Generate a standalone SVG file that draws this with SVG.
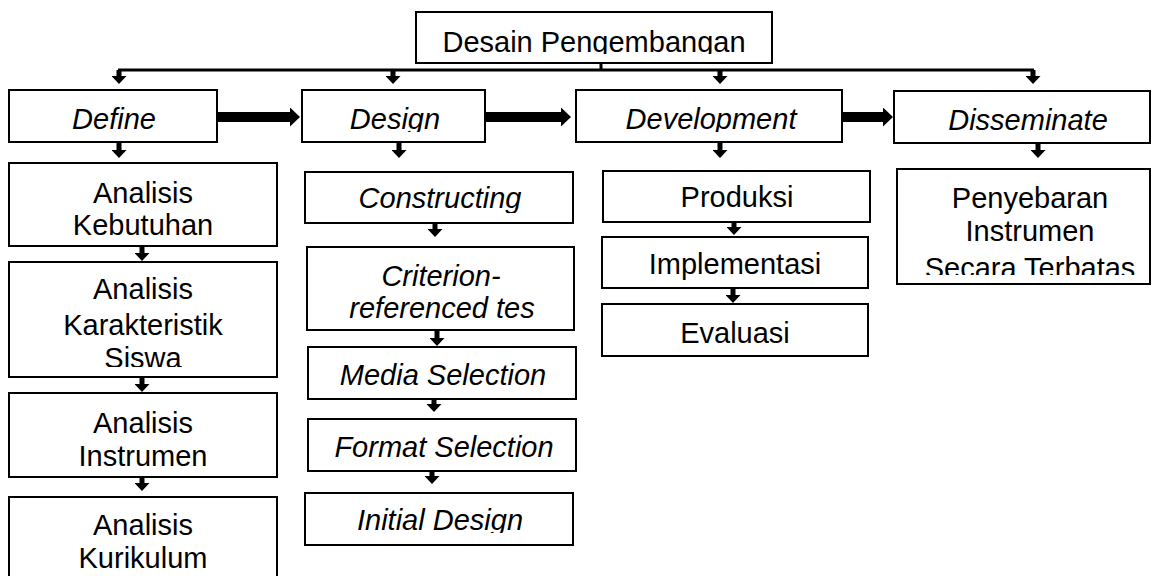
<svg xmlns="http://www.w3.org/2000/svg" width="1152" height="576" viewBox="0 0 1152 576">
<style>
.box{fill:#fff;stroke:#000;stroke-width:2}
text{font-family:"Liberation Sans",Arial,sans-serif;font-size:29px;fill:#000;text-anchor:middle}
.it{font-style:italic}
.ln{fill:none;stroke:#000;stroke-width:3}
.sa{fill:none;stroke:#000;stroke-width:5;marker-end:url(#sh)}
.ta{fill:none;stroke:#000;stroke-width:10;marker-end:url(#th)}
</style>
<defs>
<marker id="sh" markerUnits="userSpaceOnUse" viewBox="0 0 8 15" refX="0" refY="7.5" markerWidth="8" markerHeight="15" orient="auto"><path d="M0,0 L8,7.5 L0,15 z" fill="#000"/></marker>
<marker id="th" markerUnits="userSpaceOnUse" viewBox="0 0 10 19" refX="0" refY="9.5" markerWidth="10" markerHeight="19" orient="auto"><path d="M0,0 L10,9.5 L0,19 z" fill="#000"/></marker>
<clipPath id="c-title"><rect x="0" y="0" width="1152" height="54"/></clipPath>
<clipPath id="c-row2"><rect x="0" y="0" width="1152" height="132"/></clipPath>
<clipPath id="c-siswa"><rect x="0" y="0" width="1152" height="367"/></clipPath>
<clipPath id="c-cons"><rect x="0" y="0" width="1152" height="213"/></clipPath>
<clipPath id="c-init"><rect x="0" y="0" width="1152" height="533"/></clipPath>
<clipPath id="c-secara"><rect x="0" y="0" width="1152" height="275"/></clipPath>
</defs>

<g id="connectors">
<path class="ln" d="M601,63 V70 M118,70 H1034"/>
<path class="sa" d="M119,70 V76"/>
<path class="sa" d="M393,70 V76"/>
<path class="sa" d="M720,70 V76"/>
<path class="sa" d="M1033,70 V76"/>
<path class="ta" d="M217,117 H290"/>
<path class="ta" d="M486,117 H561"/>
<path class="ta" d="M843,117 H883"/>
<path class="sa" d="M119,143 V150"/>
<path class="sa" d="M399,143 V150"/>
<path class="sa" d="M720,143 V150"/>
<path class="sa" d="M1038,143 V150"/>
<path class="sa" d="M142,246 V253"/>
<path class="sa" d="M142,377 V384"/>
<path class="sa" d="M142,477 V483"/>
<path class="sa" d="M435,223 V229"/>
<path class="sa" d="M437,330 V338"/>
<path class="sa" d="M434,399 V404"/>
<path class="sa" d="M432,471 V476"/>
<path class="sa" d="M734,222 V227"/>
<path class="sa" d="M733,288 V295"/>
</g>

<g id="n-title"><rect class="box" x="416" y="12" width="356" height="51"/><text x="594" y="52" clip-path="url(#c-title)">Desain Pengembangan</text></g>

<g id="n-define"><rect class="box" x="9" y="90" width="208" height="52"/><text class="it" x="114" y="129">Define</text></g>
<g id="n-design"><rect class="box" x="302" y="90" width="183" height="52"/><text class="it" x="395" y="129" clip-path="url(#c-row2)">Design</text></g>
<g id="n-development"><rect class="box" x="576" y="90" width="266" height="52"/><text class="it" x="711" y="129" clip-path="url(#c-row2)">Development</text></g>
<g id="n-disseminate"><rect class="box" x="894" y="91" width="256" height="52"/><text class="it" x="1028" y="130">Disseminate</text></g>

<g id="n-kebutuhan"><rect class="box" x="9" y="163" width="268" height="83"/><text x="143" y="203">Analisis</text><text x="143" y="235">Kebutuhan</text></g>
<g id="n-karakteristik"><rect class="box" x="9" y="262" width="268" height="115"/><text x="143" y="299">Analisis</text><text x="143" y="335">Karakteristik</text><text x="143" y="368" clip-path="url(#c-siswa)">Siswa</text></g>
<g id="n-instrumen"><rect class="box" x="9" y="393" width="268" height="84"/><text x="143" y="433">Analisis</text><text x="143" y="466">Instrumen</text></g>
<g id="n-kurikulum"><rect class="box" x="9" y="497" width="268" height="90"/><text x="143" y="535">Analisis</text><text x="143" y="568">Kurikulum</text></g>

<g id="n-constructing"><rect class="box" x="305" y="172" width="268" height="51"/><text class="it" x="440" y="208" clip-path="url(#c-cons)">Constructing</text></g>
<g id="n-criterion"><rect class="box" x="307" y="247" width="267" height="83"/><text class="it" x="441" y="286">Criterion-</text><text class="it" x="442" y="318">referenced tes</text></g>
<g id="n-media"><rect class="box" x="308" y="347" width="268" height="52"/><text class="it" x="443" y="385">Media Selection</text></g>
<g id="n-format"><rect class="box" x="308" y="419" width="268" height="52"/><text class="it" x="444" y="457">Format Selection</text></g>
<g id="n-initial"><rect class="box" x="305" y="493" width="268" height="52"/><text class="it" x="440" y="530" clip-path="url(#c-init)">Initial Design</text></g>

<g id="n-produksi"><rect class="box" x="603" y="171" width="267" height="51"/><text x="737" y="207">Produksi</text></g>
<g id="n-implementasi"><rect class="box" x="602" y="237" width="266" height="51"/><text x="735" y="274">Implementasi</text></g>
<g id="n-evaluasi"><rect class="box" x="602" y="304" width="266" height="52"/><text x="735" y="343">Evaluasi</text></g>

<g id="n-penyebaran"><rect class="box" x="897" y="169" width="253" height="115"/><text x="1030" y="208">Penyebaran</text><text x="1030" y="241">Instrumen</text><text x="1030" y="278" clip-path="url(#c-secara)">Secara Terbatas</text></g>
</svg>
